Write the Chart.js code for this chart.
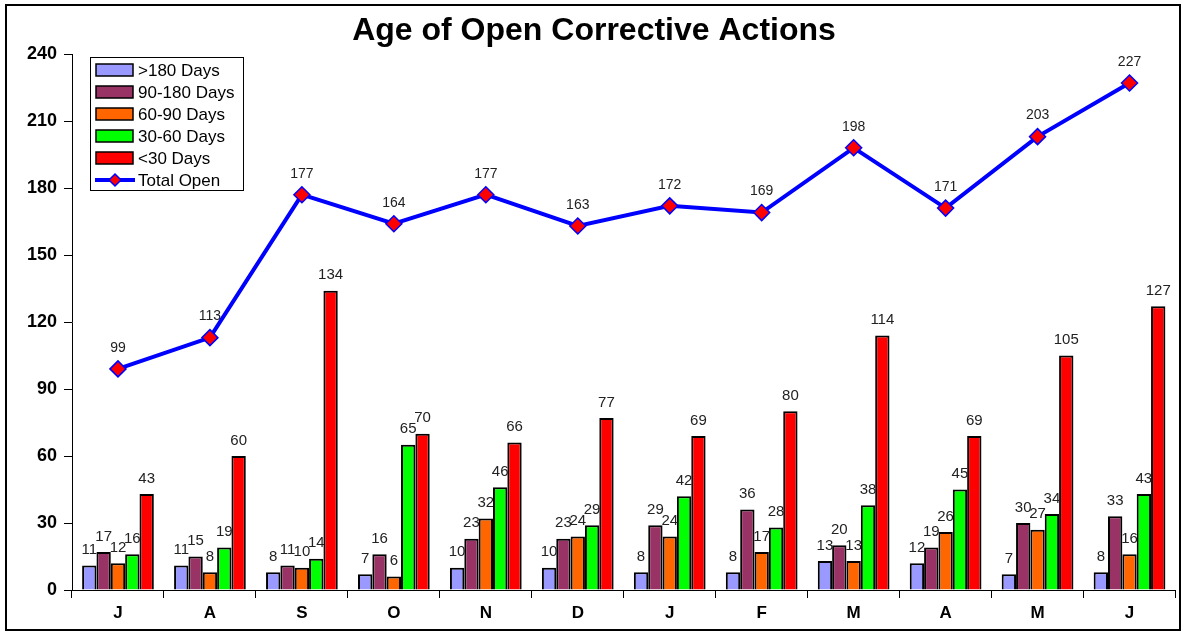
<!DOCTYPE html>
<html>
<head>
<meta charset="utf-8">
<script src="https://cdn.jsdelivr.net/npm/chart.js@4/dist/chart.umd.min.js"></script>
<style>
  body { margin: 0; background: #fff; }
  canvas { display: block; }
</style>
</head>
<body>
<canvas id="myChart" width="1185" height="632"></canvas>
<script>
var months = ['J','A','S','O','N','D','J','F','M','A','M','J'];
var over180 = [11,11,8,7,10,10,8,8,13,12,7,8];
var d90to180 = [17,15,11,16,23,23,29,36,20,19,30,33];
var d60to90 = [12,8,10,6,32,24,24,17,13,26,27,16];
var d30to60 = [16,19,14,65,46,29,42,28,38,45,34,43];
var under30 = [43,60,134,70,66,77,69,80,114,69,105,127];
var totalOpen = [99,113,177,164,177,163,172,169,198,171,203,227];

var FONT = 'Arial, "Liberation Sans", sans-serif';

// labels above bars and points, legend box, title and frame
var extras = {
    id: 'extras',
    afterDatasetsDraw: function(chart) {
        var c = chart.ctx;
        c.save();
        c.fillStyle = '#222';
        c.textAlign = 'center';
        c.textBaseline = 'bottom';
        chart.data.datasets.forEach(function(ds, i) {
            var meta = chart.getDatasetMeta(i);
            meta.data.forEach(function(el, j) {
                if (ds.type === 'line') {
                    c.font = '14px ' + FONT;
                    c.fillText(ds.data[j], el.x, el.y - 14);
                } else {
                    c.font = '15px ' + FONT;
                    c.fillText(ds.data[j], el.x, el.y - 8);
                }
            });
        });
        c.restore();
    },
    afterDraw: function(chart) {
        var c = chart.ctx;
        c.save();
        // title
        c.fillStyle = '#000';
        c.font = 'bold 32px ' + FONT;
        c.textAlign = 'center';
        c.textBaseline = 'middle';
        c.fillText('Age of Open Corrective Actions', 594, 31);

        // legend
        var lx = 90, ly = 57;
        c.fillStyle = '#fff';
        c.fillRect(lx, ly, 153, 133);
        c.strokeStyle = '#000';
        c.lineWidth = 1;
        c.strokeRect(lx + 0.5, ly + 0.5, 153, 133);
        c.font = '17px ' + FONT;
        c.textAlign = 'left';
        c.textBaseline = 'middle';
        chart.data.datasets.forEach(function(ds, i) {
            var y = 70 + i * 22;
            if (ds.type === 'line') {
                c.strokeStyle = ds.borderColor;
                c.lineWidth = 4;
                c.beginPath();
                c.moveTo(95, y);
                c.lineTo(135, y);
                c.stroke();
                c.beginPath();
                c.moveTo(115, y - 6); c.lineTo(121, y); c.lineTo(115, y + 6); c.lineTo(109, y);
                c.closePath();
                c.fillStyle = ds.pointBackgroundColor;
                c.fill();
                c.lineWidth = 1.5;
                c.stroke();
            } else {
                c.fillStyle = ds.backgroundColor;
                c.fillRect(96, y - 6, 37, 12);
                c.strokeStyle = '#000';
                c.lineWidth = 1.5;
                c.strokeRect(96, y - 6, 37, 12);
            }
            c.fillStyle = '#000';
            c.fillText(ds.label, 138, y + 1);
        });

        // outer frame
        c.strokeStyle = '#000';
        c.lineWidth = 2;
        c.strokeRect(6, 5, 1174, 625);
        c.restore();
    }
};

function barSet(label, data, color) {
    return {
        type: 'bar',
        label: label,
        data: data,
        backgroundColor: color,
        borderColor: '#000',
        borderWidth: 2,
        order: 1,
        categoryPercentage: 0.78,
        barPercentage: 1
    };
}

var ctx = document.getElementById('myChart').getContext('2d');
var myChart = new Chart(ctx, {
    data: {
        labels: months,
        datasets: [
            barSet('>180 Days', over180, '#9999FF'),
            barSet('90-180 Days', d90to180, '#993366'),
            barSet('60-90 Days', d60to90, '#FF6600'),
            barSet('30-60 Days', d30to60, '#00FF00'),
            barSet('<30 Days', under30, '#FF0000'),
            {
                type: 'line',
                label: 'Total Open',
                data: totalOpen,
                borderColor: '#0000FF',
                borderWidth: 4,
                pointStyle: 'rectRot',
                pointRadius: 8,
                pointBorderWidth: 1.5,
                pointBackgroundColor: '#FF0000',
                pointBorderColor: '#0000FF',
                tension: 0,
                order: 0
            }
        ]
    },
    options: {
        responsive: false,
        animation: false,
        layout: { padding: { left: 0, top: 54, right: 9, bottom: 0 } },
        plugins: {
            legend: { display: false },
            title: { display: false },
            tooltip: { enabled: false }
        },
        scales: {
            x: {
                grid: { drawOnChartArea: false, drawTicks: true, tickLength: 8, color: '#000', offset: true },
                border: { display: true, color: '#000', width: 1 },
                ticks: { color: '#000', font: { family: FONT, size: 17, weight: 'bold' }, padding: 5 },
                afterFit: function(scale) { scale.height = 42; }
            },
            y: {
                min: 0,
                max: 240,
                grid: { drawOnChartArea: false, drawTicks: true, tickLength: 8, color: '#000' },
                border: { display: true, color: '#000', width: 1 },
                ticks: { stepSize: 30, color: '#000', font: { family: FONT, size: 18, weight: 'bold' }, padding: 7 },
                afterFit: function(scale) { scale.width = 72; }
            }
        }
    },
    plugins: [extras]
});
</script>
</body>
</html>
